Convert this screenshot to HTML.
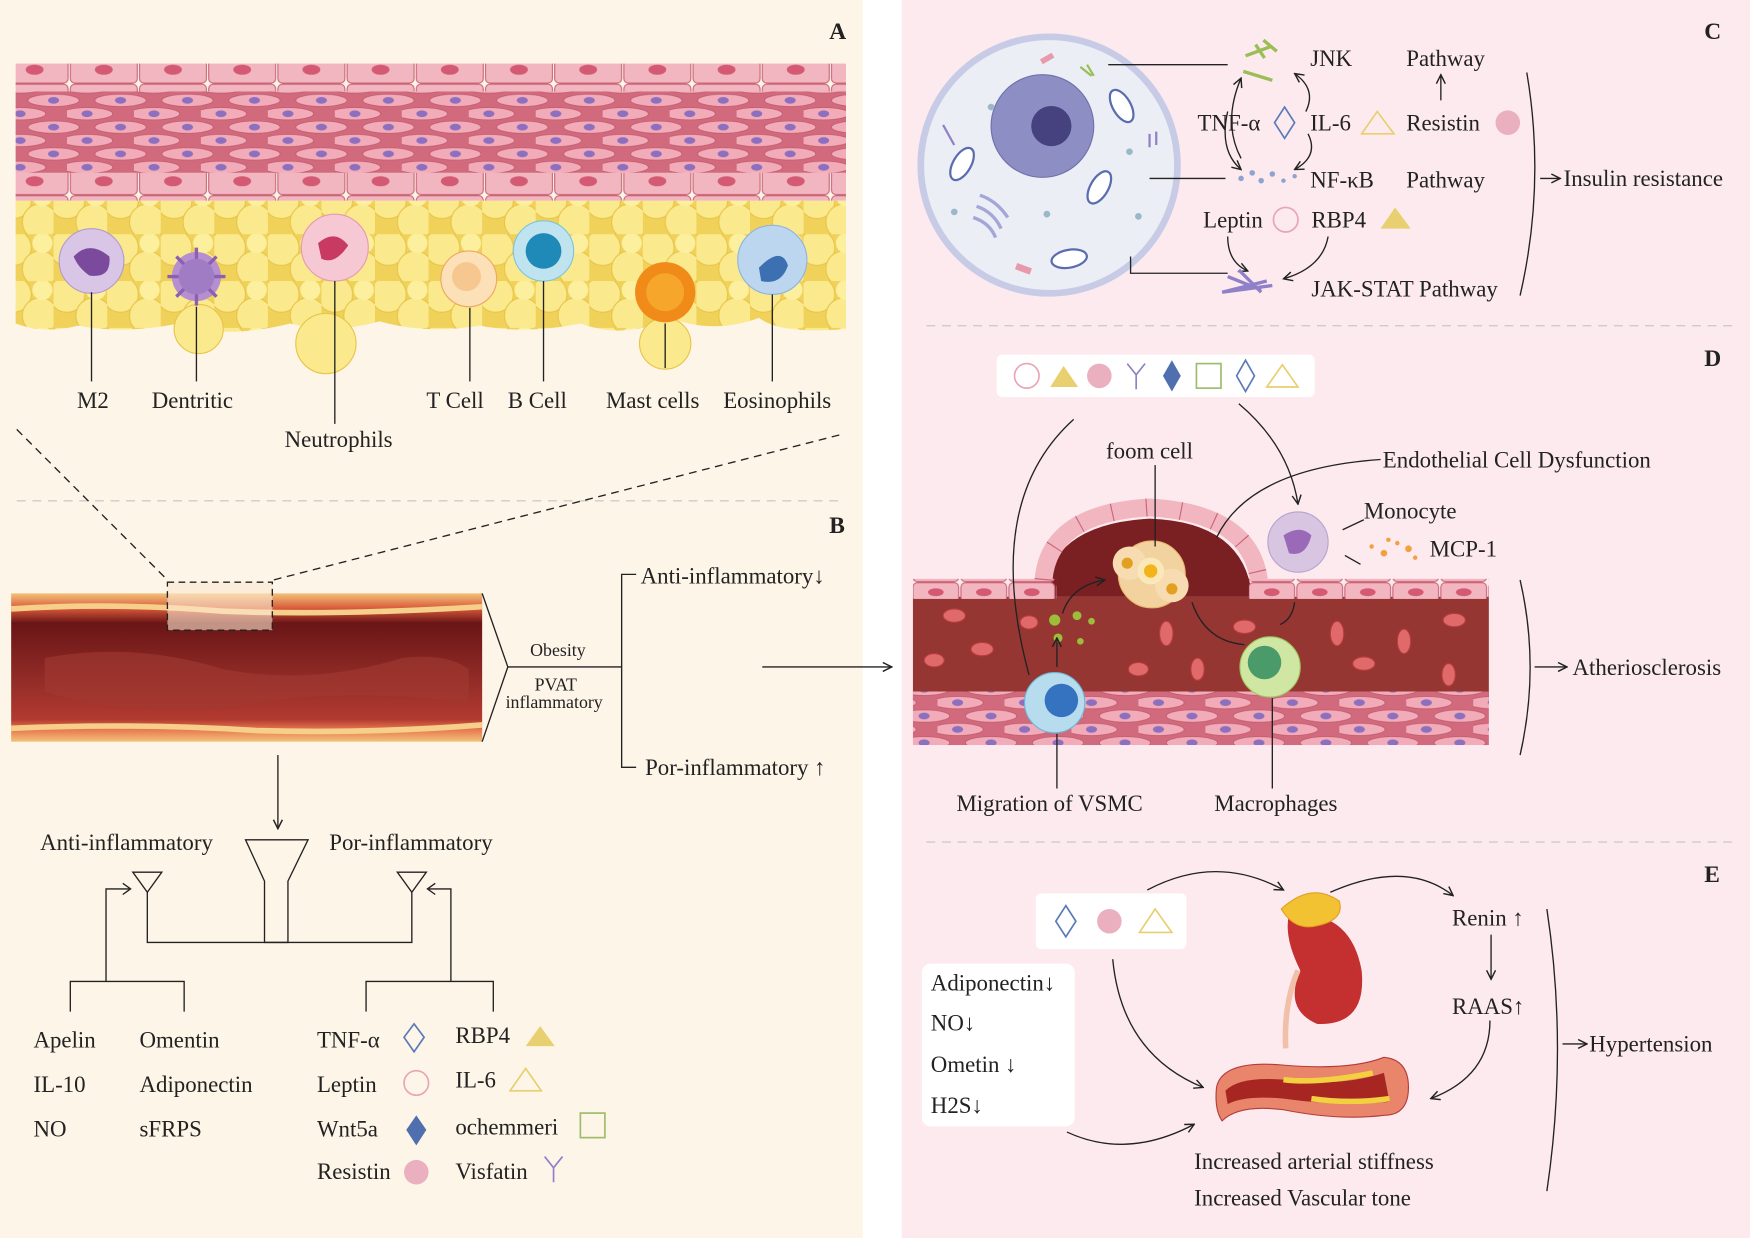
<!DOCTYPE html>
<html><head><meta charset="utf-8"><style>
html,body{margin:0;padding:0;background:#fff;width:1750px;height:1238px;overflow:hidden}
svg text{font-family:"Liberation Serif",serif;fill:#222}
</style></head><body>
<svg width="1750" height="1238" viewBox="0 0 1568 1110" preserveAspectRatio="none" xmlns="http://www.w3.org/2000/svg">
<defs>
<pattern id="sm" width="60" height="24" patternUnits="userSpaceOnUse">
<rect width="60" height="24" fill="#d06a7c"/>
<ellipse cx="18" cy="6" rx="23" ry="5.5" fill="#f2abb8" stroke="#c0566a" stroke-width=".6"/>
<ellipse cx="48" cy="18" rx="23" ry="5.5" fill="#f2abb8" stroke="#c0566a" stroke-width=".6"/>
<ellipse cx="-12" cy="18" rx="23" ry="5.5" fill="#f2abb8" stroke="#c0566a" stroke-width=".6"/>
<ellipse cx="18" cy="6" rx="5" ry="3" fill="#8d6fc0"/>
<ellipse cx="48" cy="18" rx="5" ry="3" fill="#8d6fc0"/>
</pattern>
<pattern id="fat" width="48" height="42" patternUnits="userSpaceOnUse">
<rect width="48" height="42" fill="#f0d25a"/>
<circle cx="12" cy="12" r="16" fill="#fbe98e" stroke="#e8c447" stroke-width="1"/>
<circle cx="36" cy="31" r="16" fill="#fbe98e" stroke="#e8c447" stroke-width="1"/>
<circle cx="38" cy="8" r="9" fill="#fcef9e"/>
</pattern>
<pattern id="endo" width="62" height="25" patternUnits="userSpaceOnUse">
<rect x="1" y="0.5" width="60" height="24" rx="4" fill="#f2b6c0" stroke="#c96577" stroke-width="1"/>
<ellipse cx="31" cy="12.5" rx="8" ry="4.5" fill="#d35a72"/>
</pattern>
<pattern id="endo2" width="43" height="18" patternUnits="userSpaceOnUse">
<rect x="1" y="0.5" width="41" height="17" rx="4" fill="#f2b6c0" stroke="#c96577" stroke-width="1"/>
<ellipse cx="21.5" cy="9" rx="7" ry="3.5" fill="#d35a72"/>
</pattern>
<linearGradient id="ves" x1="0" y1="0" x2="0" y2="1">
<stop offset="0" stop-color="#f2c27a"/><stop offset=".1" stop-color="#d95a3a"/><stop offset=".2" stop-color="#6a1516"/><stop offset=".55" stop-color="#8e2a26"/><stop offset=".85" stop-color="#b23a30"/><stop offset=".92" stop-color="#e87a50"/><stop offset="1" stop-color="#f2c27a"/>
</linearGradient>
<marker id="ar" markerWidth="10" markerHeight="10" refX="9" refY="5" orient="auto" markerUnits="userSpaceOnUse"><path d="M1,1 L9,5 L1,9" fill="none" stroke="#222" stroke-width="1.3"/></marker>
</defs>

<rect width="1568" height="1110" fill="#fff"/>
<rect x="0" y="0" width="773" height="1110" fill="#fdf5e8"/>
<rect x="808" y="0" width="760" height="1110" fill="#fceaef"/>

<!-- PANEL A -->
<text x="743" y="35" font-size="21" font-weight="bold">A</text>
<rect x="14" y="57" width="744" height="25" fill="url(#endo)"/>
<rect x="14" y="82" width="744" height="73" fill="url(#sm)"/>
<rect x="14" y="155" width="744" height="25" fill="url(#endo)"/>
<path d="M14,180 H758 V295 Q700,300 680,285 Q640,300 600,285 Q560,305 520,290 Q470,300 430,292 Q380,300 340,288 Q300,300 260,290 Q200,305 160,290 Q110,300 70,292 Q40,300 14,290 Z" fill="url(#fat)"/>
<circle cx="178" cy="295" r="22" fill="#fbe98e" stroke="#e8c447"/>
<circle cx="292" cy="308" r="27" fill="#fbe98e" stroke="#e8c447"/>
<circle cx="596" cy="308" r="23" fill="#fbe98e" stroke="#e8c447"/>
<circle cx="82" cy="234" r="29" fill="#d9c6e6" stroke="#b49acb"/><path d="M66,230 Q80,215 98,230 Q100,250 80,247 Q70,240 66,230Z" fill="#7b4a9c"/>
<circle cx="176" cy="248" r="22" fill="#b58fd0"/><path d="M150,248 L202,248 M176,222 L176,274 M158,230 L194,266 M194,230 L158,266" stroke="#8b60b0" stroke-width="3"/><circle cx="176" cy="248" r="16" fill="#a07cc4"/>
<circle cx="300" cy="222" r="30" fill="#f5c8d4" stroke="#e59bb0"/><path d="M285,218 Q300,205 312,220 Q300,238 288,232Z" fill="#c83a62"/>
<circle cx="420" cy="250" r="25" fill="#fbe0b8" stroke="#f0a660"/><circle cx="418" cy="248" r="13" fill="#f6c890"/>
<circle cx="487" cy="225" r="27" fill="#bfe4f0" stroke="#7cc4de"/><circle cx="487" cy="225" r="16" fill="#1f8ab8"/>
<circle cx="596" cy="262" r="27" fill="#f08a18"/><circle cx="596" cy="262" r="17" fill="#f6a62a"/>
<circle cx="692" cy="233" r="31" fill="#bcd6ef" stroke="#8eb4e0"/><path d="M680,240 Q700,220 706,238 Q700,256 682,252Z" fill="#3d70b0"/>
<g stroke="#222" stroke-width="1.2">
<line x1="82" y1="262" x2="82" y2="342"/><line x1="176" y1="275" x2="176" y2="342"/><line x1="300" y1="252" x2="300" y2="380"/><line x1="421" y1="276" x2="421" y2="342"/><line x1="487" y1="252" x2="487" y2="342"/><line x1="596" y1="290" x2="596" y2="330"/><line x1="692" y1="264" x2="692" y2="342"/>
</g>
<g font-size="20.5"><text x="69" y="366">M2</text><text x="136" y="366">Dentritic</text><text x="382" y="366">T Cell</text><text x="455" y="366">B Cell</text><text x="543" y="366">Mast cells</text><text x="648" y="366">Eosinophils</text><text x="255" y="401">Neutrophils</text></g>
<line x1="15" y1="449" x2="755" y2="449" stroke="#ccc" stroke-width="1.2" stroke-dasharray="8,6"/>
<line x1="15" y1="385" x2="150" y2="520" stroke="#222" stroke-width="1.2" stroke-dasharray="7,5"/>
<line x1="752" y1="390" x2="245" y2="520" stroke="#222" stroke-width="1.2" stroke-dasharray="7,5"/>

<!-- PANEL B -->
<text x="743" y="478" font-size="21" font-weight="bold">B</text>
<rect x="10" y="532" width="422" height="133" fill="url(#ves)"/>
<path d="M10,546 Q100,540 200,548 Q300,552 432,544" stroke="#f6d08a" stroke-width="5" fill="none"/>
<path d="M10,653 Q120,648 230,655 Q330,658 432,650" stroke="#f6d08a" stroke-width="5" fill="none"/>
<path d="M40,590 Q120,575 200,600 Q280,615 360,590 Q400,585 420,600 L420,630 Q300,615 200,635 Q100,640 40,620Z" fill="#a23a32" opacity=".6"/>
<rect x="150" y="522" width="94" height="43" fill="#fbe7d0" opacity=".6"/>
<rect x="150" y="522" width="94" height="43" fill="none" stroke="#222" stroke-width="1.2" stroke-dasharray="6,4"/>
<path d="M432,532 L455,598 L432,665" fill="none" stroke="#222" stroke-width="1.2"/>
<line x1="455" y1="598" x2="557" y2="598" stroke="#222" stroke-width="1.2"/>
<text x="475" y="588" font-size="16">Obesity</text><text x="479" y="619" font-size="16">PVAT</text><text x="453" y="635" font-size="16">inflammatory</text>
<path d="M570,515 H557 V688 H570" fill="none" stroke="#222" stroke-width="1.2"/>
<text x="574" y="523" font-size="20.5">Anti-inflammatory↓</text>
<text x="578" y="695" font-size="20.5">Por-inflammatory ↑</text>
<line x1="683" y1="598" x2="799" y2="598" stroke="#222" stroke-width="1.2" marker-end="url(#ar)"/>
<line x1="249" y1="677" x2="249" y2="743" stroke="#222" stroke-width="1.2" marker-end="url(#ar)"/>
<g fill="none" stroke="#222" stroke-width="1.2">
<path d="M220,753 H276 L258,790 V845 H237 V790 Z"/>
<path d="M119,782 H145 L132,800 Z"/><path d="M356,782 H382 L369,800 Z"/>
<path d="M132,800 V845 H369 V800"/>
<path d="M63,907 V880 H165 V907 M95,880 V797 H116" /><path d="M328,907 V880 H442 V907 M404,880 V797 H384"/>
</g>
<path d="M110,792 L117,797 L110,802" fill="none" stroke="#222" stroke-width="1.2"/>
<path d="M390,792 L383,797 L390,802" fill="none" stroke="#222" stroke-width="1.2"/>
<g font-size="20.5">
<text x="36" y="762">Anti-inflammatory</text><text x="295" y="762">Por-inflammatory</text>
<text x="30" y="939">Apelin</text><text x="125" y="939">Omentin</text>
<text x="30" y="979">IL-10</text><text x="125" y="979">Adiponectin</text>
<text x="30" y="1019">NO</text><text x="125" y="1019">sFRPS</text>
<text x="284" y="939">TNF-α</text><text x="408" y="935">RBP4</text>
<text x="284" y="979">Leptin</text><text x="408" y="975">IL-6</text>
<text x="284" y="1019">Wnt5a</text><text x="408" y="1017">ochemmeri</text>
<text x="284" y="1057">Resistin</text><text x="408" y="1057">Visfatin</text>
</g>
<path d="M371,918 L380,930 L371,943 L362,930Z" fill="none" stroke="#5a7ab8" stroke-width="1.5"/>
<path d="M471,938 L497,938 L484,920Z" fill="#e8cf70"/>
<circle cx="373" cy="971" r="11" fill="none" stroke="#e8a5b5" stroke-width="1.5"/>
<path d="M457,978 L485,978 L471,958Z" fill="none" stroke="#e8cf70" stroke-width="1.5"/>
<path d="M373,1000 L382,1013 L373,1027 L364,1013Z" fill="#4f6fae"/>
<rect x="520" y="998" width="22" height="22" fill="none" stroke="#9dbd6a" stroke-width="1.5"/>
<circle cx="373" cy="1051" r="11" fill="#eab0c0"/>
<path d="M488,1037 L496,1047 L504,1037 M496,1047 V1060" fill="none" stroke="#8f80c8" stroke-width="1.5"/>

<!-- PANEL C -->
<text x="1527" y="35" font-size="21" font-weight="bold">C</text>
<circle cx="940" cy="148" r="115" fill="#ebeef5" stroke="#c8cbe6" stroke-width="6"/>
<circle cx="934" cy="113" r="46" fill="#8d8ec4" stroke="#6f70ac"/><circle cx="942" cy="113" r="18" fill="#45427f"/>
<ellipse cx="862" cy="147" rx="8" ry="16" transform="rotate(30 862 147)" fill="#fff" stroke="#5a6bb0" stroke-width="2"/>
<ellipse cx="1005" cy="95" rx="8" ry="16" transform="rotate(-30 1005 95)" fill="#fff" stroke="#5a6bb0" stroke-width="2"/>
<ellipse cx="985" cy="168" rx="8" ry="16" transform="rotate(30 985 168)" fill="#fff" stroke="#5a6bb0" stroke-width="2"/>
<ellipse cx="958" cy="232" rx="16" ry="8" transform="rotate(-10 958 232)" fill="#fff" stroke="#5a6bb0" stroke-width="2"/>
<path d="M878,175 q15,5 25,20 M875,185 q15,5 22,20 M872,195 q15,5 20,18" stroke="#a4a6d8" stroke-width="3" fill="none"/>
<rect x="932" y="50" width="12" height="5" fill="#e89aac" transform="rotate(-30 938 52)"/>
<rect x="910" y="238" width="14" height="6" fill="#e89aac" transform="rotate(20 917 241)"/>
<path d="M845,112 L855,130 M1030,120 l0,12 M1036,118 l0,12" stroke="#8f80c8" stroke-width="2"/>
<path d="M968,60 l10,8 m-4,-10 l6,10" stroke="#9bbd55" stroke-width="2"/>
<g fill="#9bb8c8"><circle cx="888" cy="96" r="3"/><circle cx="1012" cy="136" r="3"/><circle cx="855" cy="190" r="3"/><circle cx="1020" cy="194" r="3"/><circle cx="938" cy="192" r="3"/></g>
<g stroke="#222" stroke-width="1.2" fill="none">
<line x1="993" y1="58" x2="1100" y2="58"/><line x1="1030" y1="160" x2="1098" y2="160"/><path d="M1013,230 L1013,245 H1100"/>
<path d="M1112,142 Q1095,110 1112,70" marker-end="url(#ar)"/>
<path d="M1170,100 Q1180,80 1160,66" marker-end="url(#ar)"/>
<path d="M1100,100 Q1092,135 1112,152" marker-end="url(#ar)"/>
<path d="M1172,120 Q1182,140 1160,152" marker-end="url(#ar)"/>
<path d="M1100,212 Q1100,235 1118,243" marker-end="url(#ar)"/>
<path d="M1190,212 Q1185,240 1150,250" marker-end="url(#ar)"/>
<line x1="1291" y1="90" x2="1291" y2="67" marker-end="url(#ar)"/>
<path d="M1368,65 Q1385,165 1362,265"/>
<line x1="1380" y1="160" x2="1398" y2="160" marker-end="url(#ar)"/>
</g>
<path d="M1116,50 l22,-8 m-6,-6 l12,10 m-30,18 l26,8 M1125,40 l8,12" stroke="#9bbd55" stroke-width="3" fill="none"/>
<g fill="#8fa3d0"><circle cx="1112" cy="160" r="2.5"/><circle cx="1122" cy="155" r="2.5"/><circle cx="1130" cy="162" r="2.5"/><circle cx="1140" cy="156" r="2.5"/><circle cx="1150" cy="162" r="2"/><circle cx="1160" cy="158" r="2"/></g>
<path d="M1095,262 l40,-10 m-35,-4 l30,12 m-20,-18 l20,20 m-35,0 l45,-6" stroke="#8f80c8" stroke-width="3" fill="none"/>
<g font-size="20.5">
<text x="1174" y="59">JNK</text><text x="1260" y="59">Pathway</text>
<text x="1073" y="117">TNF-α</text><text x="1174" y="117">IL-6</text><text x="1260" y="117">Resistin</text>
<text x="1174" y="168">NF-κB</text><text x="1260" y="168">Pathway</text>
<text x="1078" y="204">Leptin</text><text x="1175" y="204">RBP4</text>
<text x="1175" y="266">JAK-STAT Pathway</text>
<text x="1401" y="167">Insulin resistance</text>
</g>
<path d="M1151,96 L1160,110 L1151,124 L1142,110Z" fill="none" stroke="#5a7ab8" stroke-width="1.5"/>
<path d="M1220,120 L1249,120 L1234,100Z" fill="none" stroke="#e8cf70" stroke-width="1.5"/>
<circle cx="1351" cy="110" r="11" fill="#eab0c0"/>
<circle cx="1152" cy="197" r="11" fill="none" stroke="#e8a5b5" stroke-width="1.5"/>
<path d="M1237,205 L1264,205 L1250,186Z" fill="#e8cf70"/>
<line x1="830" y1="292" x2="1552" y2="292" stroke="#ccc" stroke-width="1.2" stroke-dasharray="8,6"/>

<!-- PANEL D -->
<text x="1527" y="328" font-size="21" font-weight="bold">D</text>
<rect x="893" y="318" width="285" height="38" rx="5" fill="#fff"/>
<circle cx="920" cy="337" r="11" fill="none" stroke="#e8a5b5" stroke-width="1.5"/>
<path d="M941,347 L966,347 L953,328Z" fill="#e8cf70"/>
<circle cx="985" cy="337" r="11" fill="#eab0c0"/>
<path d="M1010,326 L1018,336 L1026,326 M1018,336 V349" fill="none" stroke="#8f80c8" stroke-width="1.5"/>
<path d="M1050,323 L1058,337 L1050,351 L1042,337Z" fill="#4f6fae"/>
<rect x="1072" y="326" width="22" height="22" fill="none" stroke="#9dbd6a" stroke-width="1.5"/>
<path d="M1116,323 L1124,337 L1116,351 L1108,337Z" fill="none" stroke="#5a7ab8" stroke-width="1.5"/>
<path d="M1135,347 L1163,347 L1149,327Z" fill="none" stroke="#e8cf70" stroke-width="1.5"/>
<rect x="818" y="535" width="516" height="95" fill="#963632"/>
<path d="M935,535 Q940,470 1030,465 Q1115,468 1122,535Z" fill="#7a1f22"/>
<rect x="818" y="620" width="516" height="48" fill="url(#sm)"/>
<rect x="818" y="519" width="129" height="18" fill="url(#endo2)"/>
<rect x="1119" y="519" width="215" height="18" fill="url(#endo2)"/>
<path d="M935,520 Q940,460 1030,455 Q1120,460 1128,520" fill="none" stroke="#f2b6c0" stroke-width="16"/>
<path d="M935,520 Q940,460 1030,455 Q1120,460 1128,520" fill="none" stroke="#c96577" stroke-width="16" stroke-dasharray="1,30" />
<g fill="#e06a6a" stroke="#b53c3c"><ellipse cx="855" cy="552" rx="10" ry="6"/><ellipse cx="880" cy="582" rx="10" ry="6"/><ellipse cx="837" cy="592" rx="9" ry="6"/><ellipse cx="1045" cy="568" rx="6" ry="11"/><ellipse cx="1073" cy="600" rx="6" ry="10"/><ellipse cx="1115" cy="562" rx="10" ry="6"/><ellipse cx="1198" cy="568" rx="6" ry="11"/><ellipse cx="1222" cy="595" rx="10" ry="6"/><ellipse cx="1258" cy="575" rx="6" ry="11"/><ellipse cx="1303" cy="556" rx="10" ry="6"/><ellipse cx="1298" cy="605" rx="6" ry="10"/><ellipse cx="1020" cy="600" rx="9" ry="6"/><ellipse cx="922" cy="558" rx="8" ry="6"/></g>
<g fill="#9dbd3a"><circle cx="945" cy="556" r="5"/><circle cx="965" cy="552" r="4"/><circle cx="978" cy="557" r="3"/><circle cx="948" cy="572" r="4"/><circle cx="968" cy="575" r="3"/></g>
<circle cx="1032" cy="515" r="30" fill="#f2d3a0" stroke="#e8b870"/><circle cx="1012" cy="505" r="15" fill="#f6dcb0"/><circle cx="1050" cy="525" r="15" fill="#f6dcb0"/><circle cx="1031" cy="512" r="12" fill="#fbe8b8"/><circle cx="1031" cy="512" r="6" fill="#f2b418"/><circle cx="1010" cy="505" r="5" fill="#e3a020"/><circle cx="1050" cy="528" r="5" fill="#e3a020"/>
<circle cx="945" cy="630" r="27" fill="#b7dcee" stroke="#6bb8da"/><circle cx="951" cy="628" r="15" fill="#3572c0"/>
<circle cx="1138" cy="598" r="27" fill="#cfe7a2" stroke="#9cc860"/><circle cx="1133" cy="594" r="15" fill="#4a9a6a"/>
<circle cx="1163" cy="486" r="27" fill="#d8c5e2" stroke="#b9a2d0"/><path d="M1150,480 Q1165,470 1175,480 Q1170,500 1155,496Z" fill="#9a6ab8"/>
<g fill="#f2a040"><circle cx="1229" cy="490" r="2"/><circle cx="1240" cy="496" r="3"/><circle cx="1252" cy="487" r="2"/><circle cx="1262" cy="492" r="3"/><circle cx="1244" cy="484" r="2"/><circle cx="1268" cy="500" r="2"/></g>
<g stroke="#222" stroke-width="1.2" fill="none">
<path d="M962,376 Q880,450 922,605" /><path d="M1110,362 Q1155,400 1163,452" marker-end="url(#ar)"/>
<line x1="1035" y1="417" x2="1035" y2="490"/>
<path d="M1090,482 Q1120,420 1237,412"/>
<path d="M1203,475 L1222,466"/><path d="M1205,498 L1219,506"/>
<path d="M947,598 V572" marker-end="url(#ar)"/><path d="M952,550 Q960,525 990,520" marker-end="url(#ar)"/>
<path d="M1068,540 Q1080,575 1115,578"/><path d="M1160,540 Q1158,555 1147,560"/>
<line x1="947" y1="658" x2="947" y2="707"/><line x1="1140" y1="626" x2="1140" y2="707"/>
<path d="M1362,520 Q1380,598 1362,677"/><line x1="1375" y1="598" x2="1404" y2="598" marker-end="url(#ar)"/>
</g>
<g font-size="20.5">
<text x="991" y="411">foom cell</text><text x="1239" y="419">Endothelial Cell Dysfunction</text>
<text x="1222" y="465">Monocyte</text><text x="1281" y="499">MCP-1</text>
<text x="1409" y="605">Atheriosclerosis</text>
<text x="857" y="727">Migration of VSMC</text><text x="1088" y="727">Macrophages</text>
</g>
<line x1="830" y1="755" x2="1552" y2="755" stroke="#ccc" stroke-width="1.2" stroke-dasharray="8,6"/>

<!-- PANEL E -->
<text x="1527" y="791" font-size="21" font-weight="bold">E</text>
<rect x="928" y="801" width="135" height="50" rx="5" fill="#fff"/>
<path d="M955,812 L964,826 L955,840 L946,826Z" fill="none" stroke="#5a7ab8" stroke-width="1.5"/>
<circle cx="994" cy="826" r="11" fill="#eab0c0"/>
<path d="M1021,836 L1050,836 L1035,815Z" fill="none" stroke="#e8cf70" stroke-width="1.5"/>
<rect x="826" y="864" width="137" height="146" rx="8" fill="#fff"/>
<g font-size="20.5"><text x="834" y="888">Adiponectin↓</text><text x="834" y="924">NO↓</text><text x="834" y="961">Ometin ↓</text><text x="834" y="998">H2S↓</text>
<text x="1301" y="830">Renin ↑</text><text x="1301" y="909">RAAS↑</text>
<text x="1070" y="1048">Increased arterial stiffness</text><text x="1070" y="1081">Increased Vascular tone</text>
<text x="1424" y="943">Hypertension</text></g>
<path d="M1155,820 Q1210,815 1220,870 Q1225,920 1180,918 Q1150,905 1165,870 Q1150,840 1155,820Z" fill="#c4302f"/>
<path d="M1148,815 Q1175,790 1200,808 Q1205,825 1180,830 Q1160,835 1148,815Z" fill="#f3c233" stroke="#e0a020"/>
<path d="M1163,870 Q1150,900 1152,940" stroke="#f0c0a8" stroke-width="5" fill="none"/>
<path d="M1090,975 Q1095,950 1150,955 Q1210,960 1240,948 Q1262,950 1262,975 Q1262,1000 1240,1000 Q1200,1005 1150,995 Q1110,990 1095,1005 Q1088,995 1090,975Z" fill="#e8856a" stroke="#b53c3c"/>
<path d="M1098,978 Q1110,965 1150,968 Q1200,975 1240,962 L1245,988 Q1200,992 1150,985 Q1115,982 1100,990Z" fill="#a82622"/>
<path d="M1150,968 Q1180,972 1230,962" stroke="#f3d040" stroke-width="5" fill="none"/>
<path d="M1175,985 Q1210,990 1245,985" stroke="#f3d040" stroke-width="5" fill="none"/>
<g stroke="#222" stroke-width="1.2" fill="none">
<path d="M1028,798 Q1090,765 1150,798" marker-end="url(#ar)"/>
<path d="M1192,800 Q1260,770 1302,803" marker-end="url(#ar)"/>
<line x1="1336" y1="838" x2="1336" y2="878" marker-end="url(#ar)"/>
<path d="M997,860 Q1005,945 1078,975" marker-end="url(#ar)"/>
<path d="M956,1015 Q1010,1040 1070,1008" marker-end="url(#ar)"/>
<path d="M1335,915 Q1335,965 1282,985" marker-end="url(#ar)"/>
<path d="M1386,815 Q1405,940 1386,1068"/>
<line x1="1400" y1="936" x2="1422" y2="936" marker-end="url(#ar)"/>
</g>
</svg>
</body></html>
